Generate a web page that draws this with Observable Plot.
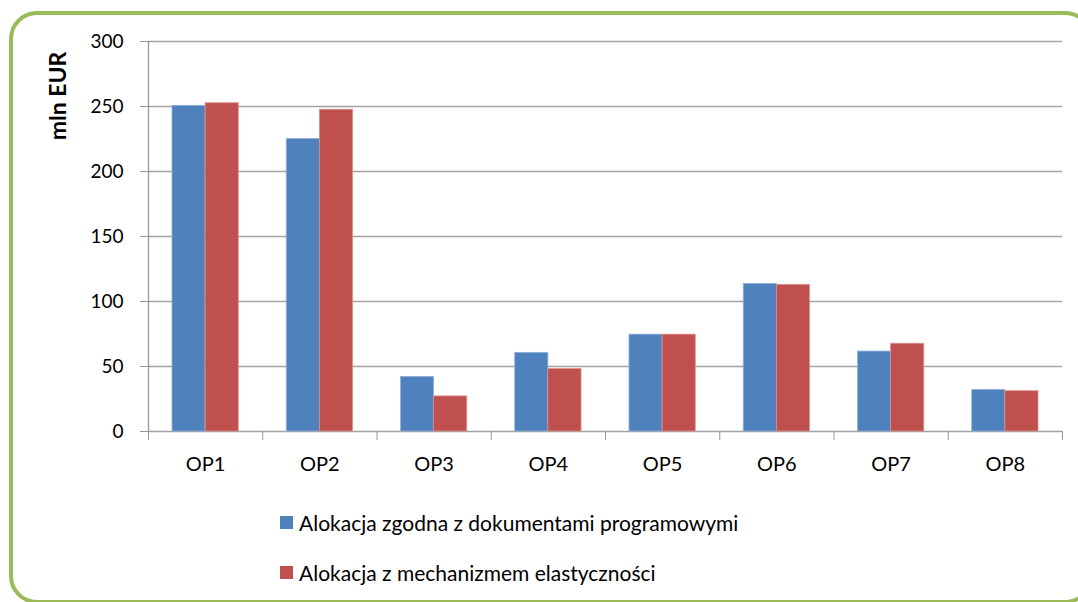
<!DOCTYPE html>
<html>
<head>
<meta charset="utf-8">
<script src="https://cdn.jsdelivr.net/npm/d3@7"></script>
<script src="https://cdn.jsdelivr.net/npm/@observablehq/plot@0.6"></script>
<style>
  html, body { margin: 0; padding: 0; background: #fff; }
  #wrap { position: relative; width: 1078px; height: 602px; overflow: hidden; font-family: Lato, "Open Sans", sans-serif; }
  #frame { position: absolute; left: 9px; top: 11px; width: 1084px; height: 593px; border: 4px solid #9BBB59; border-radius: 28px; box-sizing: border-box; }
  #chart { position: absolute; left: 0; top: 0; }
  #ylabel { position: absolute; left: 57px; top: 96px; transform: translate(-50%, -50%) rotate(-90deg); font-weight: bold; font-size: 23px; white-space: nowrap; color: #000; }
  #legend { position: absolute; left: 280px; top: 508px; font-size: 21px; color: #000; }
  .item { display: flex; align-items: center; height: 28px; margin-bottom: 22px; }
  .sw { width: 13px; height: 13px; margin-right: 6px; }
</style>
</head>
<body>
<div id="wrap">
  <div id="frame"></div>
  <div id="chart"></div>
  <div id="ylabel"></div>
  <div id="legend"></div>
</div>
<script>
const categories = ["OP1", "OP2", "OP3", "OP4", "OP5", "OP6", "OP7", "OP8"];
const seriesNames = ["Alokacja zgodna z dokumentami programowymi", "Alokacja z mechanizmem elastyczności"];
const seriesColors = ["#4F81BD", "#C0504D"];
const programmeValues = [250.5, 225, 42, 60.5, 74.5, 113.5, 61.5, 32];
const flexibilityValues = [252.5, 247.5, 27, 48, 74.5, 112.8, 67.5, 31];
const yTicks = [0, 50, 100, 150, 200, 250, 300];
const yTitle = "mln EUR";

const rows = [];
categories.forEach((c, i) => {
  rows.push({ i, category: c, series: seriesNames[0], s: 0, value: programmeValues[i] });
  rows.push({ i, category: c, series: seriesNames[1], s: 1, value: flexibilityValues[i] });
});

const barStart = 0.21, barMid = 0.5, barEnd = 0.79;

const chart = Plot.plot({
  width: 1078,
  height: 490,
  marginLeft: 148,
  marginRight: 16,
  marginTop: 41,
  marginBottom: 59,
  style: { fontFamily: "Lato, 'Open Sans', sans-serif", color: "#000", background: "transparent" },
  x: { type: "linear", domain: [0, categories.length], axis: null },
  y: { domain: [0, 300], axis: null },
  color: { domain: seriesNames, range: seriesColors },
  marks: [
    Plot.ruleY(yTicks, { stroke: "#a3a3a3", strokeWidth: 1.3 }),
    Plot.rectY(rows, {
      x1: d => d.i + (d.s === 0 ? barStart : barMid),
      x2: d => d.i + (d.s === 0 ? barMid : barEnd),
      y: "value",
      fill: "series",
      stroke: d => d.s === 0 ? "#8fb0dc" : "#dc8f8d",
      strokeWidth: 0.8
    }),
    Plot.ruleX([0], { y1: 0, y2: 300, stroke: "#999", strokeWidth: 1.3 }),
    Plot.axisY({ ticks: yTicks, tickSize: 8, tickPadding: 17, fontSize: 19, stroke: "#999", fill: "#000", label: null }),
    Plot.axisX({ ticks: d3.range(categories.length + 1), tickSize: 9, tickFormat: () => "", stroke: "#999", label: null }),
    Plot.axisX({ ticks: categories.map((c, i) => i + 0.5), tickFormat: d => categories[Math.floor(d)], tickSize: 0, tickPadding: 25, fontSize: 20, fill: "#000", label: null })
  ]
});
document.getElementById("chart").appendChild(chart);
document.getElementById("ylabel").textContent = yTitle;

const legend = document.getElementById("legend");
seriesNames.forEach((name, k) => {
  const item = document.createElement("div");
  item.className = "item";
  const sw = document.createElement("span");
  sw.className = "sw";
  sw.style.background = seriesColors[k];
  const t = document.createElement("span");
  t.textContent = name;
  item.appendChild(sw);
  item.appendChild(t);
  legend.appendChild(item);
});
</script>
</body>
</html>
